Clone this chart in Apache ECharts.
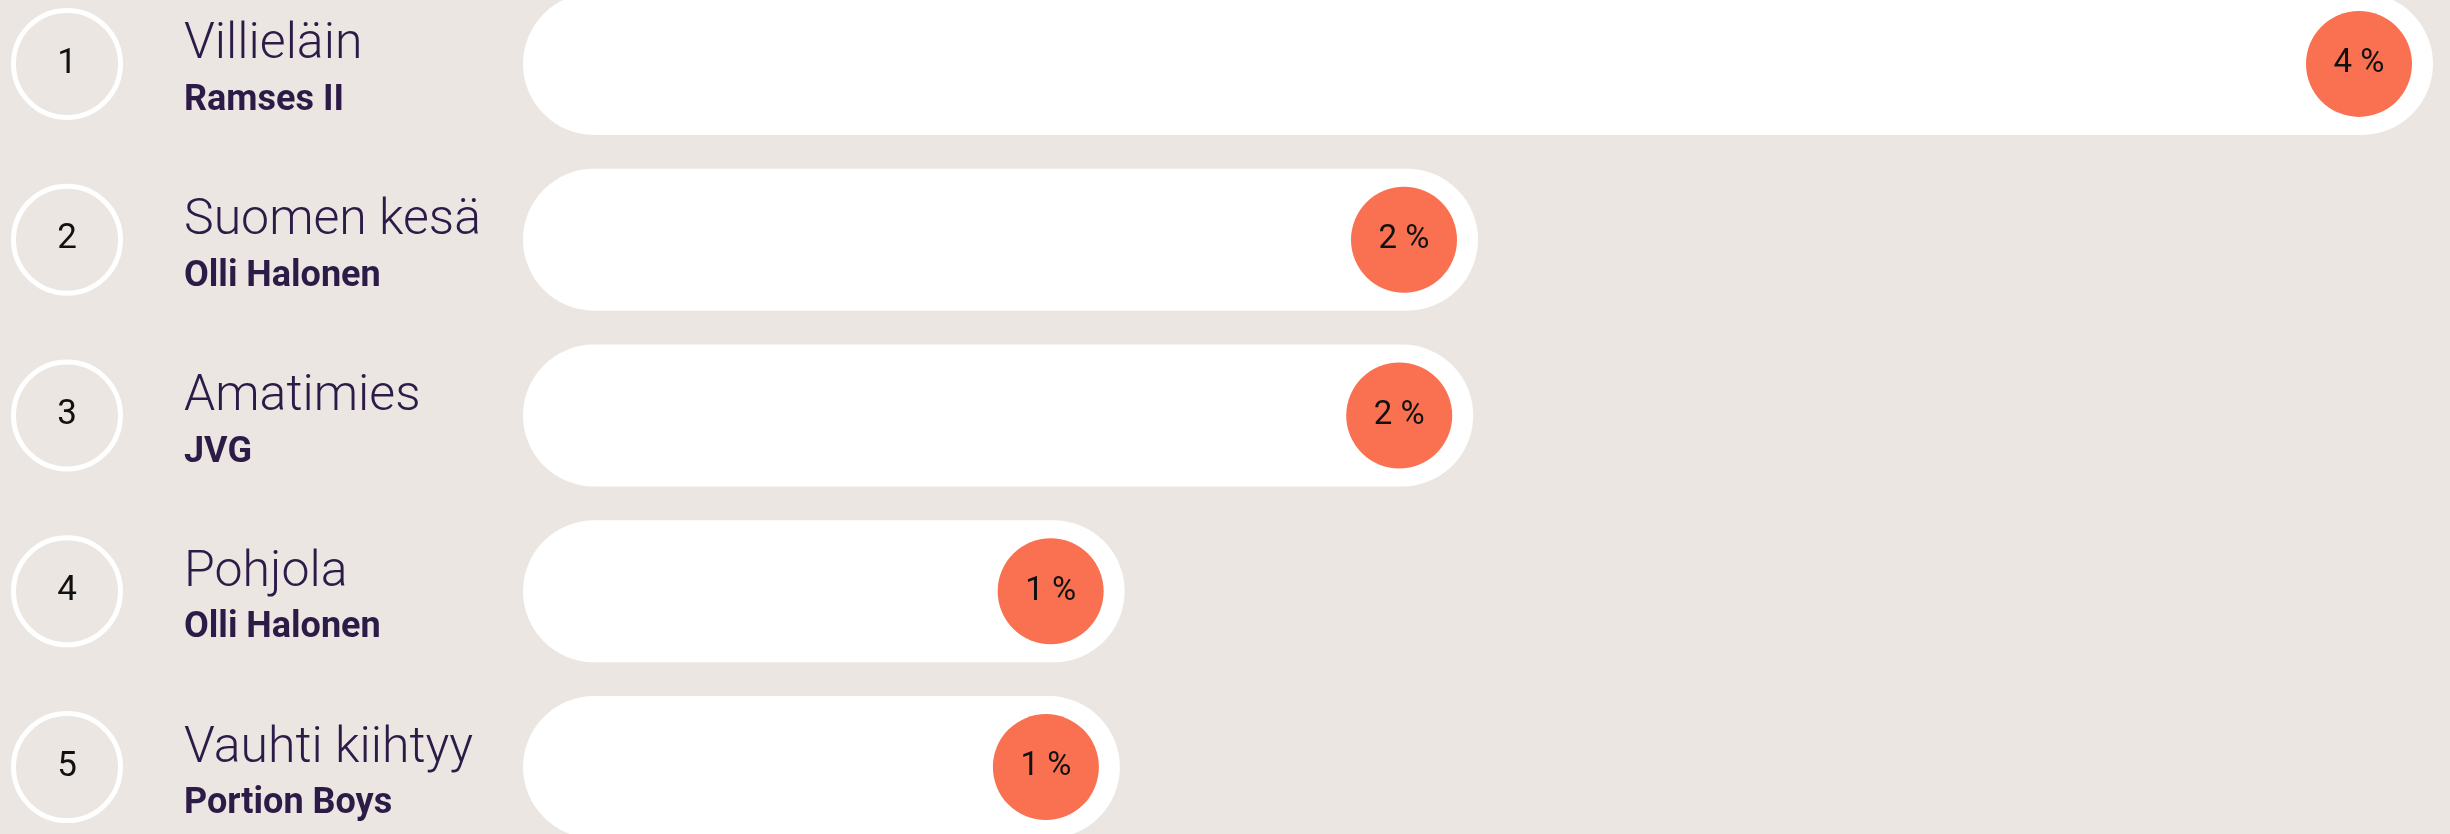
<!DOCTYPE html>
<html>
<head>
<meta charset="utf-8">
<script src="https://cdn.jsdelivr.net/npm/echarts@6/dist/echarts.min.js"></script>
<style>
  html, body { margin: 0; padding: 0; background: #ebe6e2; overflow: hidden; }
  /* first row is cut off at the top in the original, so the canvas starts above the page */
  #chart { position: relative; top: -24px; width: 2450px; height: 900px; }
</style>
</head>
<body>
<div id="chart"></div>
<script>
const ranks = ['1', '2', '3', '4', '5'];
const songs = ['Villieläin', 'Suomen kesä', 'Amatimies', 'Pohjola', 'Vauhti kiihtyy'];
const artists = ['Ramses II', 'Olli Halonen', 'JVG', 'Olli Halonen', 'Portion Boys'];
const shares = [4.0, 2.0, 1.99, 1.26, 1.25];

const COLORS = { bg: '#ebe6e2', text: '#2c1b47', bar: '#ffffff', dot: '#f97150' };

const myChart = echarts.init(document.getElementById('chart'));

myChart.setOption({
    backgroundColor: COLORS.bg,
    animation: false,
    grid: { left: 523, right: 17, top: 0, height: 879, containLabel: false },
    xAxis: { type: 'value', min: 0, max: 4, show: false },
    yAxis: [{
        type: 'category', inverse: true, data: songs,
        axisLine: { show: false }, axisTick: { show: false },
        axisLabel: {
            align: 'left', margin: 339,
            formatter: (v, i) => `{t|${v}}\n{a|${artists[i]}}`,
            rich: {
                t: { fontFamily: 'Roboto', fontWeight: 300, fontSize: 50, lineHeight: 74, color: COLORS.text },
                a: { fontFamily: 'Roboto', fontWeight: 700, fontSize: 36, lineHeight: 36, color: COLORS.text }
            }
        }
    }, {
        type: 'category', inverse: true, data: ranks, position: 'left',
        axisLine: { show: false }, axisTick: { show: false },
        axisLabel: {
            align: 'center', margin: 456,
            formatter: v => `{c|${v}}`,
            rich: {
                c: { width: 107, height: 107, lineHeight: 107, align: 'center', borderColor: '#ffffff', borderWidth: 5, borderRadius: 54,
                     fontFamily: 'Roboto', fontSize: 35, color: '#111111' }
            }
        }
    }],
    series: [{
        type: 'bar', data: shares, barWidth: 142,
        itemStyle: { color: COLORS.bar, borderRadius: 71 },
        silent: true
    }, {
        type: 'scatter', data: shares.map((v, i) => [v, i]),
        symbol: 'circle', symbolSize: 106, symbolOffset: [-74, 0],
        itemStyle: { color: COLORS.dot, opacity: 1 },
        label: {
            show: true, position: 'inside',
            formatter: p => Math.round(p.value[0]) + ' %',
            fontFamily: 'Roboto', fontSize: 33, color: '#111111'
        },
        silent: true, z: 3
    }]
});

window.addEventListener('resize', () => myChart.resize());
</script>
</body>
</html>
